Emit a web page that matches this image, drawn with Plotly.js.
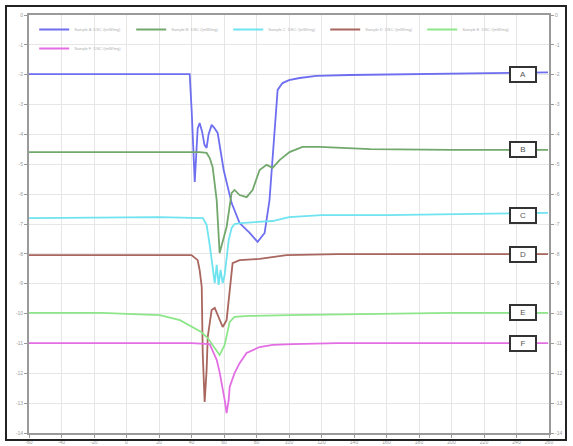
<!DOCTYPE html>
<html>
<head>
<meta charset="utf-8">
<script src="https://cdn.plot.ly/plotly-3.0.1.min.js"></script>
<style>
  html, body { margin: 0; padding: 0; background: #fff; }
  #wrap { position: relative; width: 573px; height: 446px; }
  #chart { position: absolute; left: 0; top: 0; width: 573px; height: 446px; }
  #frame { position: absolute; left: 5px; top: 5px; width: 558px; height: 432px; border: 2.5px solid #222; pointer-events: none; }
</style>
</head>
<body>
<div id="wrap"><div id="chart"></div><div id="frame"></div></div>
<script>
// Temperature axis ticks and heat-flow axis ticks
const xTicks = [-60,-40,-20,0,20,40,60,80,100,120,140,160,180,200,220,240,260];
const yTicks = [0,-1,-2,-3,-4,-5,-6,-7,-8,-9,-10,-11,-12,-13,-14];

const seriesNames = ["A","B","C","D","E","F"];
const legendNames = ["Sample A  DSC /(mW/mg)","Sample B  DSC /(mW/mg)","Sample C  DSC /(mW/mg)","Sample D  DSC /(mW/mg)","Sample E  DSC /(mW/mg)","Sample F  DSC /(mW/mg)"];

const xA = [-60, 38.9, 40.1, 41.0, 42.0, 42.8, 43.8, 45.0, 46.5, 48.0, 49.3, 50.5, 52.4, 54.0, 56.1, 59.8, 64.7, 69.6, 75.8, 80.7, 85.0, 88.0, 91.1, 93.0, 96.0, 100, 106.5, 116.9, 137.2, 170, 200, 230, 259.4];
const yA = [-1.98, -1.98, -3.2, -4.6, -5.59, -4.8, -3.8, -3.62, -3.9, -4.35, -4.45, -4.0, -3.68, -3.78, -3.95, -5.19, -6.30, -6.97, -7.30, -7.60, -7.30, -6.20, -3.75, -2.51, -2.28, -2.18, -2.11, -2.04, -2.01, -1.98, -1.96, -1.95, -1.92];

const xB = [-60, 45, 49.3, 51.2, 53.0, 55.5, 57.3, 58.5, 61.6, 64.7, 66.5, 69.6, 73.9, 77.6, 81.9, 86.2, 89.9, 94.2, 100.3, 108.3, 118.8, 150, 200, 259.4];
const yB = [-4.59, -4.59, -4.62, -4.79, -5.09, -6.20, -7.97, -7.70, -7.10, -5.96, -5.86, -6.03, -6.10, -5.86, -5.19, -5.02, -5.12, -4.86, -4.59, -4.42, -4.42, -4.49, -4.52, -4.52];

const xC = [-60, 20, 47, 49.3, 51.2, 53.0, 54.3, 55.5, 56.7, 57.9, 59.2, 60.4, 61.6, 62.9, 64.7, 66.5, 70, 80, 90, 100, 120, 160, 200, 259.4];
const yC = [-6.80, -6.77, -6.80, -7.03, -7.70, -8.54, -8.98, -8.37, -9.04, -8.54, -8.98, -8.71, -8.21, -7.54, -7.13, -7.00, -6.97, -6.93, -6.90, -6.77, -6.70, -6.70, -6.67, -6.63];

const xD = [-60, 40, 43.8, 45.0, 46.3, 46.9, 48.1, 49.3, 50.0, 52.4, 54.3, 57.3, 59.2, 61.6, 63.5, 65.3, 69.6, 81.9, 98.5, 130, 200, 259.4];
const yD = [-8.04, -8.04, -8.21, -8.54, -9.11, -11.32, -12.96, -11.89, -10.78, -9.88, -9.81, -10.22, -10.45, -10.22, -9.11, -8.31, -8.21, -8.17, -8.04, -8.01, -8.01, -8.01];

const xE = [-60, -15, 0, 20.5, 32.9, 40.8, 46, 50, 54, 57.3, 60.4, 63.5, 66.5, 75, 100, 150, 200, 259.4];
const yE = [-9.98, -9.98, -10.01, -10.05, -10.22, -10.45, -10.62, -10.82, -11.15, -11.39, -11.05, -10.28, -10.11, -10.08, -10.05, -10.01, -9.98, -9.98];

const xF = [-60, 40, 51.2, 53.0, 55.5, 57.3, 59.2, 60.4, 61.6, 62.9, 63.5, 65.3, 66.5, 69.6, 73.9, 81.9, 90, 102.2, 130, 200, 259.4];
const yF = [-10.99, -10.99, -11.02, -11.22, -11.55, -11.96, -12.46, -12.89, -13.33, -12.89, -12.46, -12.16, -11.99, -11.66, -11.32, -11.12, -11.05, -11.02, -10.99, -10.99, -10.99];

const colors = ["#6e6ef0", "#72a86c", "#6fe3ef", "#a8665e", "#8ee68a", "#e36ee3"];
const labelY = [-1.98, -4.52, -6.70, -8.01, -9.98, -10.99];
const labelX = 244;

const xs = [xA, xB, xC, xD, xE, xF];
const ys = [yA, yB, yC, yD, yE, yF];

const traces = xs.map((x, i) => ({
  x: x, y: ys[i], type: "scatter", mode: "lines",
  name: legendNames[i],
  line: { color: colors[i], width: 1.8 },
  hoverinfo: "skip"
}));
traces.push({ x: [xTicks[0]], y: [yTicks[0]], yaxis: "y2", mode: "markers", marker: { opacity: 0 }, showlegend: false, hoverinfo: "skip" });

const axisCommon = {
  showgrid: true, gridcolor: "#e6e6e6", gridwidth: 1,
  showline: true, linecolor: "#9a9a9a", linewidth: 2,
  ticks: "outside", ticklen: 3, tickcolor: "#9a9a9a",
  tickfont: { size: 5, color: "#9a9a9a", family: "Liberation Sans, Arial, sans-serif" },
  zeroline: false
};

const layout = {
  width: 573, height: 446,
  margin: { l: 29, r: 24, t: 15, b: 13 },
  paper_bgcolor: "#ffffff", plot_bgcolor: "#ffffff",
  showlegend: true,
  legend: {
    orientation: "h", x: 0.01, y: 1.0, xanchor: "left", yanchor: "top",
    font: { size: 4, color: "#b0b0b0", family: "Liberation Sans, Arial, sans-serif" },
    bgcolor: "rgba(255,255,255,0)", entrywidth: 52, itemwidth: 30, tracegroupgap: 0
  },
  xaxis: Object.assign({}, axisCommon, {
    range: [xTicks[0], xTicks[xTicks.length - 1]],
    tickmode: "array", tickvals: xTicks, ticktext: xTicks.map(String),
    mirror: true,
    minor: { ticks: "outside", ticklen: 2, tickcolor: "#9a9a9a", nticks: 5, showgrid: false }
  }),
  yaxis: Object.assign({}, axisCommon, {
    range: [yTicks[yTicks.length - 1], yTicks[0]],
    tickmode: "array", tickvals: yTicks, ticktext: yTicks.map(String),
    mirror: true
  }),
  yaxis2: Object.assign({}, axisCommon, {
    overlaying: "y", side: "right", showgrid: false,
    range: [yTicks[yTicks.length - 1], yTicks[0]],
    tickmode: "array", tickvals: yTicks, ticktext: yTicks.map(String)
  }),
  annotations: seriesNames.map((s, i) => ({
    x: labelX, y: labelY[i], xref: "x", yref: "y",
    text: s, showarrow: false,
    font: { size: 8, color: "#555", family: "Liberation Sans, Arial, sans-serif" },
    bgcolor: "#ffffff", bordercolor: "#333333", borderwidth: 2, borderpad: 1,
    width: 22, height: 11
  }))
};

Plotly.newPlot("chart", traces, layout, { staticPlot: true, displayModeBar: false });
</script>
</body>
</html>
